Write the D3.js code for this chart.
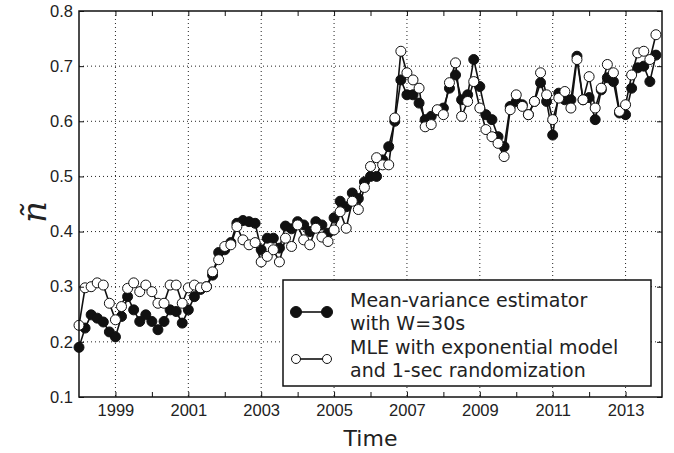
<!DOCTYPE html>
<html lang="en">
<head>
<meta charset="UTF-8">
<title>Estimator over time</title>
<script src="https://d3js.org/d3.v7.min.js"></script>
<style>
    body { margin: 0; background: #fff; }
    svg { font-family: 'DejaVu Sans', sans-serif; }
    .grid line { stroke: #222; stroke-width: 1; stroke-dasharray: 1,3; }
</style>
</head>
<body>
<div id="chart"></div>
<script>
// samples every two months from Jan 1998
const startYear = 1998;
const perYear = 6;

const meanVariance = [
    0.190, 0.225, 0.249, 0.243, 0.236, 0.218, 0.209, 0.246, 0.282, 0.258, 0.237, 0.249,
    0.237, 0.222, 0.237, 0.258, 0.255, 0.234, 0.258, 0.282, 0.295, 0.300, 0.321, 0.362,
    0.367, 0.380, 0.415, 0.420, 0.418, 0.415, 0.367, 0.388, 0.388, 0.370, 0.410, 0.405,
    0.418, 0.412, 0.400, 0.418, 0.412, 0.397, 0.425, 0.455, 0.445, 0.470, 0.460, 0.490,
    0.500, 0.500, 0.530, 0.554, 0.600, 0.675, 0.648, 0.648, 0.633, 0.603, 0.609, 0.620,
    0.624, 0.660, 0.684, 0.639, 0.648, 0.712, 0.663, 0.612, 0.603, 0.572, 0.554, 0.627,
    0.636, 0.630, 0.612, 0.636, 0.670, 0.636, 0.575, 0.651, 0.639, 0.639, 0.718, 0.639,
    0.643, 0.603, 0.657, 0.679, 0.672, 0.615, 0.612, 0.660, 0.697, 0.700, 0.672, 0.720
];

const mle = [
    0.230, 0.298, 0.300, 0.307, 0.303, 0.270, 0.240, 0.264, 0.297, 0.307, 0.291, 0.303,
    0.291, 0.270, 0.270, 0.303, 0.303, 0.270, 0.298, 0.303, 0.298, 0.300, 0.327, 0.349,
    0.373, 0.376, 0.409, 0.385, 0.376, 0.380, 0.345, 0.355, 0.367, 0.345, 0.388, 0.373,
    0.412, 0.385, 0.376, 0.406, 0.390, 0.382, 0.403, 0.436, 0.406, 0.455, 0.440, 0.480,
    0.518, 0.534, 0.521, 0.521, 0.606, 0.727, 0.688, 0.675, 0.660, 0.590, 0.594, 0.621,
    0.612, 0.670, 0.706, 0.609, 0.636, 0.672, 0.624, 0.585, 0.572, 0.560, 0.536, 0.621,
    0.648, 0.627, 0.612, 0.636, 0.688, 0.648, 0.603, 0.642, 0.654, 0.624, 0.712, 0.639,
    0.681, 0.624, 0.660, 0.703, 0.688, 0.618, 0.630, 0.684, 0.724, 0.727, 0.712, 0.757
];

const yTicks = [0.1, 0.2, 0.3, 0.4, 0.5, 0.6, 0.7, 0.8];
const xLabelYears = [1999, 2001, 2003, 2005, 2007, 2009, 2011, 2013];
const xMinorYears = d3.range(1999, 2014);

const legendLabels = [
    ["Mean-variance estimator", "with W=30s"],
    ["MLE with exponential model", "and 1-sec randomization"]
];

const width = 674, height = 453;
const margin = { top: 11, right: 12, bottom: 56, left: 79 };
const iw = width - margin.left - margin.right;
const ih = height - margin.top - margin.bottom;

const svg = d3.select("#chart").append("svg")
    .attr("width", width)
    .attr("height", height);

const g = svg.append("g").attr("transform", `translate(${margin.left},${margin.top})`);

const x = d3.scaleLinear().domain([1998, 2014]).range([0, iw]);
const y = d3.scaleLinear().domain([0.1, 0.8]).range([ih, 0]);

const t = i => startYear + i / perYear;

// grid
const grid = g.append("g").attr("class", "grid");
grid.selectAll(".gx").data(xLabelYears).enter().append("line")
    .attr("x1", d => x(d)).attr("x2", d => x(d))
    .attr("y1", 0).attr("y2", ih);
grid.selectAll(".gy").data(yTicks.slice(1, -1)).enter().append("line")
    .attr("x1", 0).attr("x2", iw)
    .attr("y1", d => y(d)).attr("y2", d => y(d));

// clip for data
svg.append("clipPath").attr("id", "clip")
    .append("rect").attr("x", -6).attr("y", -6).attr("width", iw + 6).attr("height", ih + 12);

const plot = g.append("g").attr("clip-path", "url(#clip)");

function drawSeries(values, fill) {
    const line = d3.line().x((d, i) => x(t(i))).y(d => y(d));
    plot.append("path")
        .datum(values)
        .attr("d", line)
        .attr("fill", "none")
        .attr("stroke", "#111")
        .attr("stroke-width", 1.6);
    plot.append("g").selectAll("circle")
        .data(values)
        .enter().append("circle")
        .attr("cx", (d, i) => x(t(i)))
        .attr("cy", d => y(d))
        .attr("r", 5)
        .attr("fill", fill)
        .attr("stroke", "#111")
        .attr("stroke-width", 1);
}

drawSeries(meanVariance, "#111");
drawSeries(mle, "#fff");

// axes (ticks inside on all four sides)
const tickLen = 5;
const axisStyle = sel => {
    sel.select(".domain").remove();
    sel.selectAll(".tick line").attr("stroke", "#111").attr("stroke-width", 1);
    sel.selectAll(".tick text").attr("fill", "#222").style("font-size", "16.5px");
};

g.append("g")
    .attr("transform", `translate(0,${ih})`)
    .call(d3.axisBottom(x).tickValues(xMinorYears)
        .tickSize(-tickLen).tickPadding(7)
        .tickFormat(d => xLabelYears.includes(d) ? d : ""))
    .call(axisStyle);

g.append("g")
    .call(d3.axisTop(x).tickValues(xMinorYears).tickSize(-tickLen).tickFormat(""))
    .call(axisStyle);

g.append("g")
    .call(d3.axisLeft(y).tickValues(yTicks).tickSize(-tickLen).tickPadding(6)
        .tickFormat(d3.format(".1f")))
    .call(axisStyle);

g.append("g")
    .attr("transform", `translate(${iw},0)`)
    .call(d3.axisRight(y).tickValues(yTicks).tickSize(-tickLen).tickFormat(""))
    .call(axisStyle);

g.append("rect")
    .attr("width", iw).attr("height", ih)
    .attr("fill", "none")
    .attr("stroke", "#111")
    .attr("stroke-width", 1.5);

// axis titles
svg.append("text")
    .attr("x", margin.left + iw / 2)
    .attr("y", 446)
    .attr("text-anchor", "middle")
    .style("font-size", "22px")
    .attr("fill", "#222")
    .text("Time");

svg.append("text")
    .attr("transform", "translate(46,212) rotate(-90)")
    .attr("text-anchor", "middle")
    .style("font-family", "'DejaVu Serif', serif")
    .style("font-style", "italic")
    .style("font-size", "34px")
    .attr("fill", "#222")
    .text("ñ");

// legend
const lg = svg.append("g").attr("transform", "translate(283,280)");
lg.append("rect")
    .attr("width", 368).attr("height", 106)
    .attr("fill", "#fff")
    .attr("stroke", "#111")
    .attr("stroke-width", 1.5);

const fills = ["#111", "#fff"];
const radii = [5.5, 4.5];
legendLabels.forEach((lines, i) => {
    const cy = 32 + i * 47;
    lg.append("line")
        .attr("x1", 13).attr("x2", 44)
        .attr("y1", cy).attr("y2", cy)
        .attr("stroke", "#111").attr("stroke-width", 1.6);
    [13, 44].forEach(cx => lg.append("circle")
        .attr("cx", cx).attr("cy", cy).attr("r", radii[i])
        .attr("fill", fills[i]).attr("stroke", "#111").attr("stroke-width", 1));
    lines.forEach((txt, j) => lg.append("text")
        .attr("x", 67)
        .attr("y", 27 + i * 47 + j * 23)
        .style("font-size", "19px")
        .attr("fill", "#222")
        .text(txt));
});
</script>
</body>
</html>
